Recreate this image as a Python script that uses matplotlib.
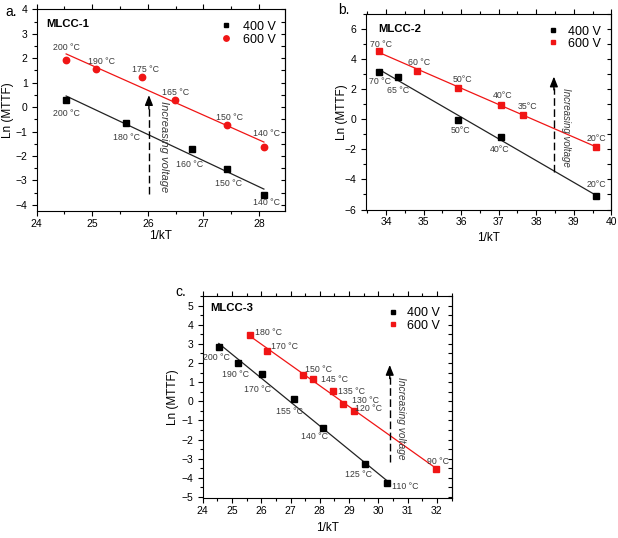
import numpy as np
import matplotlib
matplotlib.use("Agg")
import matplotlib.pyplot as plt
from matplotlib.ticker import MultipleLocator

plt.rcParams['font.family'] = ['Liberation Sans', 'DejaVu Sans']

# ---------------- data ----------------
# MLCC-1
a_x400 = [24.53, 25.61, 26.79, 27.42, 28.09]
a_y400 = [0.31, -0.64, -1.73, -2.55, -3.59]
a_lab400 = ['200 °C', '180 °C', '160 °C', '150 °C', '140 °C']
a_x600 = [24.53, 25.06, 25.90, 26.49, 27.42, 28.09]
a_y600 = [1.92, 1.56, 1.23, 0.30, -0.75, -1.65]
a_lab600 = ['200 °C', '190 °C', '175 °C', '165 °C', '150 °C', '140 °C']

# MLCC-2
b_x400 = [33.82, 34.32, 35.91, 37.06, 39.59]
b_y400 = [3.17, 2.84, -0.03, -1.20, -5.07]
b_lab400 = ['70 °C', '65 °C', '50°C', '40°C', '20°C']
b_x600 = [33.82, 34.83, 35.91, 37.06, 37.66, 39.59]
b_y600 = [4.56, 3.19, 2.11, 0.96, 0.28, -1.82]
b_lab600 = ['70 °C', '60 °C', '50°C', '40°C', '35°C', '20°C']

# MLCC-3
c_x400 = [24.55, 25.20, 26.03, 27.12, 28.10, 29.53, 30.31]
c_y400 = [2.86, 1.98, 1.44, 0.14, -1.40, -3.30, -4.26]
c_lab400 = ['200 °C', '190 °C', '170 °C', '155 °C', '140 °C', '125 °C', '110 °C']
c_x600 = [25.61, 26.20, 27.44, 27.76, 28.45, 28.80, 29.16, 31.97]
c_y600 = [3.46, 2.65, 1.37, 1.16, 0.53, -0.14, -0.51, -3.51]
c_lab600 = ['180 °C', '170 °C', '150 °C', '145 °C', '135 °C', '130 °C', '120 °C', '90 °C']

series_labels = ['400 V', '600 V']
panel_titles = ['MLCC-1', 'MLCC-2', 'MLCC-3']
panel_letters = ['a.', 'b.', 'c.']
arrow_text = 'Increasing voltage'
xlabel = '1/kT'
ylabel = 'Ln (MTTF)'

# ---------------- layout ----------------
W, H = 618, 538
fig = plt.figure(figsize=(W / 100, H / 100), dpi=100)

def rect(l, r, t, b):
    return [l / W, 1 - b / H, (r - l) / W, (b - t) / H]

RED = '#f01515'
ANN = '#3a3a3a'

panels = [
    dict(rect=rect(36.7, 285, 9.3, 211), xlim=(24, 28.47), ylim=(-4.25, 4),
         xmaj=1, ymaj=1,
         d400=(a_x400, a_y400, a_lab400), d600=(a_x600, a_y600, a_lab600),
         m600='o', ms600=4.6,
         off600=[(0, 8.9), (4.6, 5.3), (2.2, 5.5), (0.7, 5.5), (2.2, 5.8), (1.9, 10.1)],
         off400=[(0.5, -10.3), (0, -10.6), (-1.4, -10.6), (1.2, -10.3), (1.7, -5.3)],
         arrow=(26.02, -3.55, 0.49), atext=(26.30, -1.63), afs=8.0,
         title=(0.040, 0.926), leg=(0.737, 0.8815), htp=0.88, lsp=0.08,
         letter=(11, 12), ylabx=8, xlaby=236),
    dict(rect=rect(365.5, 611.3, 14, 209.5), xlim=(33.45, 40), ylim=(-6, 7),
         xmaj=1, ymaj=2,
         d400=(b_x400, b_y400, b_lab400), d600=(b_x600, b_y600, b_lab600),
         m600='s', ms600=4.0,
         off600=[(1.2, 4.8), (1.2, 6.0), (3.4, 6.0), (1.2, 6.7), (3.1, 6.2), (0.5, 6.2)],
         off400=[(0.7, -7.0), (0, -10.1), (2.2, -7.7), (-1.2, -8.6), (0, 8.2)],
         arrow=(38.47, -3.5, 2.84), atext=(38.80, -0.52), afs=7.0,
         title=(0.052, 0.923), leg=(0.739, 0.879), htp=0.7, lsp=0.0,
         letter=(344, 10), ylabx=342, xlaby=238),
    dict(rect=rect(202.7, 451.5, 296, 498), xlim=(24, 32.5), ylim=(-5.05, 5.5),
         xmaj=1, ymaj=1,
         d400=(c_x400, c_y400, c_lab400), d600=(c_x600, c_y600, c_lab600),
         m600='s', ms600=4.0,
         off600=[(13.2, 2.2), (12.2, 2.9), (11.0, 4.3), (15.6, 0), (13.2, 0), (16.3, 2.2), (10.8, 1.7), (1.4, 4.8)],
         off400=[(-1.9, -8.2), (-1.4, -7.7), (-3.1, -11), (-3.4, -9.6), (-6, -6), (-4.3, -7), (13.2, -2.6)],
         arrow=(30.39, -3.19, 1.9), atext=(30.78, -0.91), afs=7.3,
         title=(0.029, 0.939), leg=(0.741, 0.884), htp=0.6, lsp=0.03,
         letter=(181, 292), ylabx=173, xlaby=528),
]

for i, p in enumerate(panels):
    ax = fig.add_axes(p['rect'])
    x4, y4, l4 = p['d400']
    x6, y6, l6 = p['d600']

    # linear fits
    for xs, ys, col in ((x4, y4, '#222222'), (x6, y6, RED)):
        k, b0 = np.polyfit(xs, ys, 1)
        xx = np.array([min(xs), max(xs)])
        ax.plot(xx, k * xx + b0, color=col, lw=0.9, zorder=2)

    ax.plot(x4, y4, ls='none', marker='s', ms=4.0, color='black', label=series_labels[0], zorder=3)
    ax.plot(x6, y6, ls='none', marker=p['m600'], ms=p['ms600'], color=RED, mec=RED,
            label=series_labels[1], zorder=3)

    for xs, ys, labs, offs in ((x6, y6, l6, p['off600']), (x4, y4, l4, p['off400'])):
        for xv, yv, lb, (dx, dy) in zip(xs, ys, labs, offs):
            ax.annotate(lb, (xv, yv), xytext=(dx, dy), textcoords='offset points',
                        ha='center', va='center', fontsize=6.3, color=ANN)

    # dashed arrow
    ax_x, ab, at = p['arrow']
    span = at - ab
    ax.plot([ax_x, ax_x], [ab, at - 0.12 * span], color='black', lw=1.0,
            linestyle=(0, (5.5, 2.5)), zorder=2)
    ax.annotate('', xy=(ax_x, at), xytext=(ax_x, at - 0.14 * span),
                arrowprops=dict(arrowstyle='-|>,head_length=0.6,head_width=0.24',
                                color='black', lw=1.0, shrinkA=0, shrinkB=0))
    ax.text(p['atext'][0], p['atext'][1], arrow_text, rotation=-90, style='italic',
            ha='center', va='center', fontsize=p['afs'], color=ANN)

    ax.set_xlim(*p['xlim'])
    ax.set_ylim(*p['ylim'])
    ax.xaxis.set_major_locator(MultipleLocator(p['xmaj']))
    ax.xaxis.set_minor_locator(MultipleLocator(p['xmaj'] / 2))
    ax.yaxis.set_major_locator(MultipleLocator(p['ymaj']))
    ax.yaxis.set_minor_locator(MultipleLocator(p['ymaj'] / 2))
    ax.tick_params(axis='x', which='both', direction='out', top=True, bottom=True,
                   labeltop=False, labelsize=7.5, width=0.8, pad=2)
    ax.tick_params(axis='y', which='both', direction='out', left=True, right=False,
                   labelsize=7.5, width=0.8, pad=3)
    ax.tick_params(which='major', length=3.5)
    ax.tick_params(which='minor', length=2.2)
    for s in ax.spines.values():
        s.set_linewidth(0.8)

    sec = ax.secondary_yaxis('right')
    sec.yaxis.set_major_locator(MultipleLocator(p['ymaj']))
    sec.yaxis.set_minor_locator(MultipleLocator(p['ymaj'] / 2))
    sec.tick_params(axis='y', which='both', direction='in', labelright=False,
                    length=2.6, width=0.8)
    sec.spines['right'].set_linewidth(0.8)

    ax.text(p['title'][0], p['title'][1], panel_titles[i], transform=ax.transAxes,
            fontsize=8.2, fontweight='bold', ha='left', va='center')

    ax.legend(loc='center left', bbox_to_anchor=p['leg'], frameon=False,
              fontsize=9, handlelength=1.0, handletextpad=p['htp'],
              labelspacing=p['lsp'], borderpad=0, borderaxespad=0, numpoints=1,
              markerscale=0.85)

    fig.text(p['letter'][0] / W, 1 - p['letter'][1] / H, panel_letters[i],
             fontsize=10, ha='center', va='center')
    bb = p['rect']
    fig.text(p['ylabx'] / W, bb[1] + bb[3] / 2, ylabel, rotation=90, fontsize=8.5,
             ha='center', va='center')
    fig.text(bb[0] + bb[2] / 2, 1 - p['xlaby'] / H, xlabel, fontsize=8.5,
             ha='center', va='center')

fig.savefig('out.png', dpi=100)
